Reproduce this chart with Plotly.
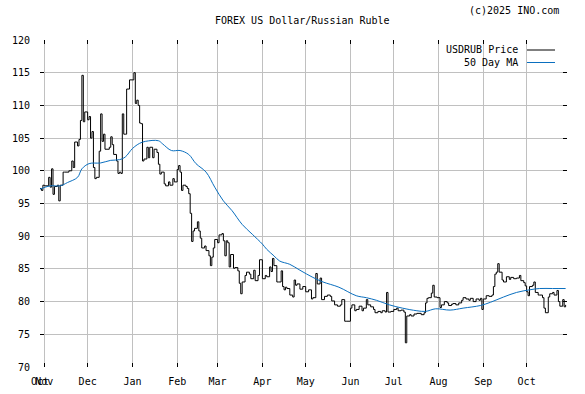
import plotly.graph_objects as go

# ---------------- data ----------------
price_dates = [
    "2024-10-29", "2024-10-30", "2024-10-31", "2024-11-01", "2024-11-04", "2024-11-05", "2024-11-06",
    "2024-11-07", "2024-11-08", "2024-11-10", "2024-11-11", "2024-11-12", "2024-11-14", "2024-11-15",
    "2024-11-18", "2024-11-20", "2024-11-21", "2024-11-22", "2024-11-24", "2024-11-25", "2024-11-26",
    "2024-11-27", "2024-11-28", "2024-11-29", "2024-12-01", "2024-12-02", "2024-12-03", "2024-12-04",
    "2024-12-05", "2024-12-06", "2024-12-07", "2024-12-09", "2024-12-10", "2024-12-11", "2024-12-12",
    "2024-12-13", "2024-12-16", "2024-12-17", "2024-12-18", "2024-12-19", "2024-12-21", "2024-12-22",
    "2024-12-23", "2024-12-24", "2024-12-25", "2024-12-26", "2024-12-27", "2024-12-28", "2024-12-30",
    "2025-01-02", "2025-01-03", "2025-01-04", "2025-01-05", "2025-01-06", "2025-01-07", "2025-01-08",
    "2025-01-09", "2025-01-11", "2025-01-12", "2025-01-13", "2025-01-15", "2025-01-16", "2025-01-18",
    "2025-01-19", "2025-01-20", "2025-01-21", "2025-01-23", "2025-01-24", "2025-01-26", "2025-01-27",
    "2025-01-29", "2025-01-30", "2025-02-01", "2025-02-02", "2025-02-03", "2025-02-04", "2025-02-05",
    "2025-02-07", "2025-02-08", "2025-02-09", "2025-02-10", "2025-02-11", "2025-02-12", "2025-02-13",
    "2025-02-15", "2025-02-16", "2025-02-17", "2025-02-18", "2025-02-20", "2025-02-21", "2025-02-23",
    "2025-02-24", "2025-02-25", "2025-02-26", "2025-02-27", "2025-03-01", "2025-03-02", "2025-03-04",
    "2025-03-05", "2025-03-06", "2025-03-07", "2025-03-08", "2025-03-09", "2025-03-10", "2025-03-12",
    "2025-03-13", "2025-03-15", "2025-03-16", "2025-03-17", "2025-03-18", "2025-03-20", "2025-03-21",
    "2025-03-23", "2025-03-24", "2025-03-26", "2025-03-27", "2025-03-29", "2025-03-30", "2025-04-01",
    "2025-04-03", "2025-04-04", "2025-04-06", "2025-04-07", "2025-04-08", "2025-04-09", "2025-04-11",
    "2025-04-12", "2025-04-14", "2025-04-15", "2025-04-16", "2025-04-17", "2025-04-18", "2025-04-20",
    "2025-04-22", "2025-04-23", "2025-04-24", "2025-04-25", "2025-04-27", "2025-04-29", "2025-05-01",
    "2025-05-03", "2025-05-05", "2025-05-06", "2025-05-08", "2025-05-09", "2025-05-11", "2025-05-12",
    "2025-05-14", "2025-05-16", "2025-05-18", "2025-05-19", "2025-05-21", "2025-05-23", "2025-05-25",
    "2025-05-26", "2025-05-28", "2025-05-29", "2025-06-01", "2025-06-02", "2025-06-04", "2025-06-05",
    "2025-06-07", "2025-06-09", "2025-06-10", "2025-06-12", "2025-06-13", "2025-06-15", "2025-06-17",
    "2025-06-18", "2025-06-20", "2025-06-22", "2025-06-23", "2025-06-25", "2025-06-26", "2025-06-27",
    "2025-06-29", "2025-07-01", "2025-07-03", "2025-07-04", "2025-07-06", "2025-07-08", "2025-07-09",
    "2025-07-10", "2025-07-12", "2025-07-13", "2025-07-15", "2025-07-17", "2025-07-20", "2025-07-22",
    "2025-07-23", "2025-07-24", "2025-07-25", "2025-07-27", "2025-07-28", "2025-07-29", "2025-07-31",
    "2025-08-02", "2025-08-03", "2025-08-05", "2025-08-07", "2025-08-08", "2025-08-10", "2025-08-11",
    "2025-08-13", "2025-08-15", "2025-08-17", "2025-08-18", "2025-08-20", "2025-08-22", "2025-08-23",
    "2025-08-25", "2025-08-27", "2025-08-29", "2025-08-30", "2025-08-31", "2025-09-01", "2025-09-03",
    "2025-09-05", "2025-09-07", "2025-09-08", "2025-09-09", "2025-09-10", "2025-09-11", "2025-09-12",
    "2025-09-14", "2025-09-15", "2025-09-17", "2025-09-19", "2025-09-20", "2025-09-22", "2025-09-24",
    "2025-09-26", "2025-09-27", "2025-09-29", "2025-09-30", "2025-10-01", "2025-10-02", "2025-10-03",
    "2025-10-05", "2025-10-06", "2025-10-07", "2025-10-09", "2025-10-10", "2025-10-12", "2025-10-13",
    "2025-10-14", "2025-10-16", "2025-10-17", "2025-10-19", "2025-10-20", "2025-10-22", "2025-10-23",
    "2025-10-24", "2025-10-26", "2025-10-27", "2025-10-28",
]
price_values = [
    97.3, 97.0, 97.8, 97.7, 99.0, 97.5, 100.3,
    96.4, 97.6, 97.8, 95.4, 97.8, 99.8, 99.8,
    100.0, 101.5, 100.5, 104.4, 103.8, 104.8, 107.7,
    114.6, 107.5, 109.0, 107.8, 108.3, 105.0, 106.0,
    100.5, 98.8, 99.0, 103.0, 108.7, 104.5, 105.6,
    103.3, 103.6, 105.2, 104.0, 102.5, 101.5, 99.6,
    99.8, 99.6, 108.7, 105.6, 105.6, 112.5, 113.9,
    115.0, 110.3, 110.8, 110.0, 107.3, 107.2, 101.5,
    101.8, 103.6, 102.0, 103.6, 102.0, 103.3, 102.8,
    101.0, 99.5, 99.8, 98.0, 97.7, 98.3, 97.8,
    98.8, 98.3, 100.2, 100.8, 99.8, 97.0, 97.8,
    97.6, 97.3, 96.5, 93.5, 89.2, 90.8, 91.2,
    92.2, 90.8, 89.7, 88.2, 88.5, 87.8, 87.0,
    85.5, 86.8, 88.2, 89.5, 89.0, 90.2, 90.4,
    89.3, 87.0, 89.3, 89.0, 85.3, 87.2, 85.1,
    85.2, 84.7, 82.8, 81.2, 83.0, 84.0, 84.5,
    84.2, 83.5, 84.8, 83.2, 84.0, 86.4, 83.5,
    84.0, 83.8, 85.3, 84.6, 86.6, 85.5, 83.0,
    83.0, 84.7, 82.3, 81.8, 82.2, 82.0, 81.0,
    80.7, 83.3, 82.5, 82.7, 81.9, 82.3, 81.5,
    81.8, 80.4, 80.6, 84.3, 82.7, 83.6, 80.3,
    80.8, 81.0, 80.8, 80.1, 79.5, 79.3, 79.5,
    80.3, 77.0, 77.0, 79.0, 79.5, 78.6, 78.8,
    79.3, 78.6, 79.0, 80.3, 79.5, 79.2, 78.8,
    78.3, 78.5, 78.3, 78.6, 78.4, 81.4, 78.4,
    78.5, 78.8, 79.0, 78.6, 78.7, 78.4, 73.7,
    77.8, 78.0, 77.8, 78.1, 78.2, 78.0, 78.3,
    79.8, 80.5, 80.6, 81.3, 82.5, 80.7, 80.6,
    79.1, 79.5, 80.0, 79.8, 79.4, 79.6, 79.7,
    79.5, 79.8, 80.2, 80.6, 80.4, 80.2, 80.5,
    80.0, 80.4, 80.2, 80.5, 78.8, 80.4, 80.9,
    80.8, 81.0, 82.3, 84.2, 84.5, 85.8, 84.5,
    83.3, 83.0, 83.8, 83.4, 83.7, 83.5, 83.6,
    84.0, 83.2, 82.9, 82.4, 81.5, 80.9, 82.3,
    82.5, 83.0, 81.4, 81.0, 81.0, 80.6, 79.0,
    78.3, 80.7, 81.2, 81.4, 81.0, 81.7, 80.0,
    79.3, 80.3, 79.2, 79.5,
]

ma_dates = [
    "2024-10-29", "2024-11-05", "2024-11-12", "2024-11-17", "2024-11-24", "2024-11-27", "2024-12-02",
    "2024-12-10", "2024-12-17", "2024-12-23", "2024-12-27", "2025-01-01", "2025-01-06", "2025-01-10",
    "2025-01-19", "2025-01-22", "2025-01-28", "2025-02-03", "2025-02-09", "2025-02-14", "2025-02-21",
    "2025-02-27", "2025-03-05", "2025-03-11", "2025-03-18", "2025-03-25", "2025-04-01", "2025-04-04",
    "2025-04-09", "2025-04-13", "2025-04-20", "2025-04-27", "2025-05-06", "2025-05-13", "2025-05-24",
    "2025-06-05", "2025-06-12", "2025-06-19", "2025-06-28", "2025-07-07", "2025-07-17", "2025-07-23",
    "2025-07-30", "2025-08-09", "2025-08-18", "2025-08-30", "2025-09-06", "2025-09-15", "2025-09-24",
    "2025-10-03", "2025-10-10", "2025-10-19", "2025-10-28",
]
ma_values = [
    97.2, 97.7, 97.7, 98.2, 99.0, 100.3, 101.1,
    101.2, 101.6, 101.7, 102.1, 103.4, 104.2, 104.5,
    104.6, 104.1, 103.1, 103.1, 102.5, 101.1, 99.8,
    97.5, 95.4, 93.9, 91.8, 90.3, 88.8, 88.0,
    87.0, 86.2, 85.7, 84.8, 83.7, 83.0, 82.2,
    80.9, 80.6, 80.2, 79.5, 79.0, 78.6, 78.5,
    78.9, 78.7, 79.0, 79.4, 79.9, 80.7, 81.4,
    81.8, 82.0, 82.0, 82.0,
]

tick_dates = ["2024-10-29 01:00", "2024-11-01", "2024-12-01", "2025-01-01", "2025-02-01", "2025-03-01",
              "2025-04-01", "2025-05-01", "2025-06-01", "2025-07-01", "2025-08-01", "2025-09-01",
              "2025-10-01"]
tick_labels = ["Oct", "Nov", "Dec", "Jan", "Feb", "Mar", "Apr", "May", "Jun", "Jul", "Aug", "Sep", "Oct"]
y_ticks = [70, 75, 80, 85, 90, 95, 100, 105, 110, 115, 120]

title_text = "FOREX US Dollar/Russian Ruble"
copyright_text = "(c)2025 INO.com"
series_names = ["USDRUB Price", "50 Day MA"]
series_colors = ["#000000", "#0a6fbf"]

# ---------------- figure ----------------
FONT = "DejaVu Sans Mono"
GRID = "#c0c0c0"

fig = go.Figure()
fig.add_trace(go.Scatter(x=price_dates, y=price_values, mode="lines", line_shape="hv",
                         line=dict(color=series_colors[0], width=1), name=series_names[0],
                         showlegend=False))
fig.add_trace(go.Scatter(x=ma_dates, y=ma_values, mode="lines", line_shape="spline",
                         line=dict(color=series_colors[1], width=1), name=series_names[1],
                         showlegend=False))

W, H = 585, 394
PL, PR, PT, PB = 40, 567, 40, 367          # plot area in page pixels
L, T, R, B = PL, PT, W - PR, H - PB
pw, ph = PR - PL, PB - PT


def px_x(p):
    return (p - PL) / pw


def px_y(p):
    return 1 - (p - PT) / ph


annotations = [
    dict(text=title_text, x=px_x(302), y=px_y(20), xref="paper", yref="paper",
         xanchor="center", yanchor="middle", showarrow=False,
         font=dict(family=FONT, size=10, color="#000")),
    dict(text=copyright_text, x=px_x(561), y=px_y(10), xref="paper", yref="paper",
         xanchor="right", yanchor="middle", showarrow=False,
         font=dict(family=FONT, size=10, color="#000")),
]
shapes = []
for i, (nm, col) in enumerate(zip(series_names, series_colors)):
    yy = 50 + 12.5 * i
    annotations.append(dict(text=nm, x=px_x(520), y=px_y(yy), xref="paper", yref="paper",
                            xanchor="right", yanchor="middle", showarrow=False,
                            font=dict(family=FONT, size=10, color="#000")))
    shapes.append(dict(type="line", xref="paper", yref="paper",
                       x0=px_x(527), x1=px_x(555), y0=px_y(yy), y1=px_y(yy),
                       line=dict(color=col, width=1)))

fig.update_layout(
    width=W, height=H, autosize=False,
    margin=dict(l=L, r=R, t=T, b=B, pad=0),
    paper_bgcolor="white", plot_bgcolor="white",
    font=dict(family=FONT, size=10, color="#000"),
    showlegend=False,
    annotations=annotations,
    shapes=shapes,
    xaxis=dict(type="date", range=["2024-10-29", "2025-10-28 23:00"],
               tickmode="array", tickvals=tick_dates, ticktext=tick_labels, tickangle=0,
               showgrid=True, gridcolor=GRID, gridwidth=1,
               ticks="inside", ticklen=4, tickcolor="#000", tickwidth=1,
               ticklabelstandoff=7, automargin=False,
               showline=False, mirror="ticks", zeroline=False,
               tickfont=dict(family=FONT, size=10, color="#000")),
    yaxis=dict(range=[70, 120], tickmode="array", tickvals=y_ticks,
               showgrid=True, gridcolor=GRID, gridwidth=1,
               ticks="inside", ticklen=4, tickcolor="#000", tickwidth=1,
               ticklabelstandoff=9, automargin=False,
               showline=False, mirror="ticks", zeroline=False,
               tickfont=dict(family=FONT, size=10, color="#000")),
)

# remove the browser's default 8px body margin so the figure sits at the page origin
fig.write_html("out.html", config={"displayModeBar": False},
               post_script="document.body.style.margin='0';document.body.style.padding='0';")
